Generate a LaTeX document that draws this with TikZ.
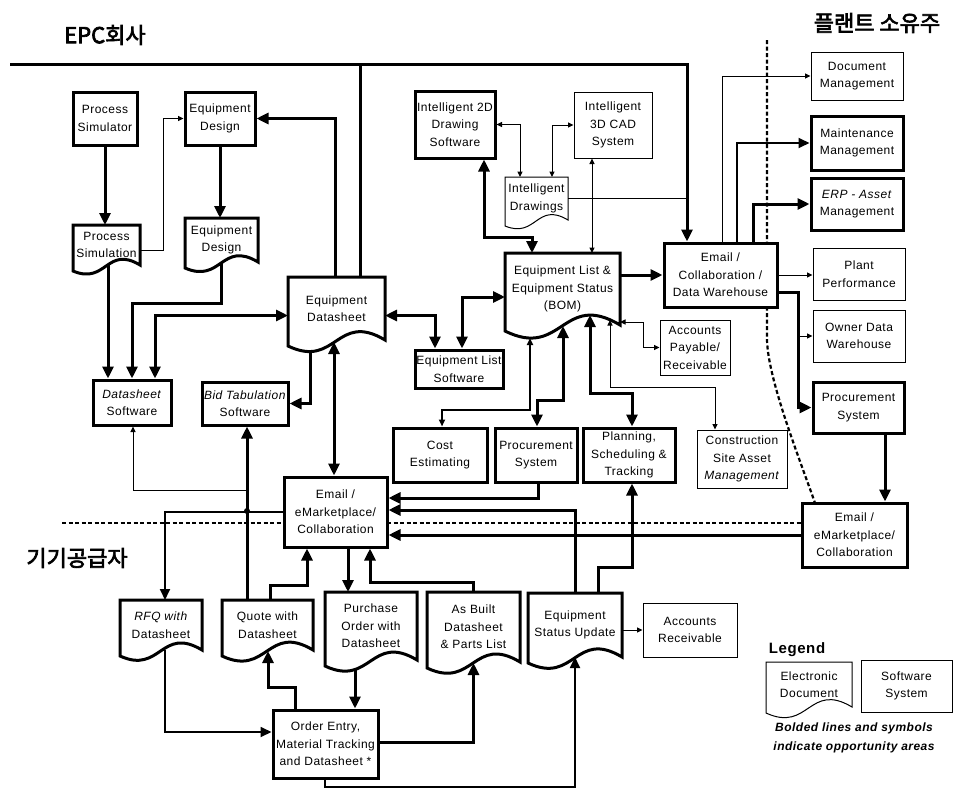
\documentclass[tikz,border=0pt]{standalone}
\usepackage{fontspec}
\setmainfont{Liberation Sans}[LetterSpace=4]
\newfontfamily\kfont{Noto Sans CJK KR}[FakeBold=3]
\usetikzlibrary{arrows.meta,calc}

% document symbol with a wavy bottom, drawn round a named node
\newcommand{\docshape}[2][]{%
  \draw[#1] (#2.north west) -- (#2.north east) -- (#2.south east)
    .. controls ($(#2.south)!0.6!90:(#2.south east)$) and ($(#2.south)!0.6!-90:(#2.south east)$)
    .. ($(#2.south west)+(0,6)$) -- cycle;}

\tikzset{
  sw/.style={draw, line width=1pt, fill=white, align=center, inner sep=1pt,
    font=\fontsize{12}{17.5}\selectfont},
  swb/.style={sw, line width=3pt},
  doc/.style={align=center, inner sep=1pt, outer sep=0pt,
    font=\fontsize{12}{17.5}\selectfont},
  boldline/.style={line width=3pt},
  medline/.style={line width=1.8pt},
  thinline/.style={line width=1pt},
  boldarrow/.style={boldline, -{Triangle[length=12pt,width=11pt]}},
  boldboth/.style={boldline, {Triangle[length=12pt,width=11pt]}-{Triangle[length=12pt,width=11pt]}},
  medarrow/.style={medline, -{Triangle[length=11pt,width=10pt]}},
  medboth/.style={medline, {Triangle[length=7pt,width=6pt]}-{Triangle[length=7pt,width=6pt]}},
  thinarrow/.style={thinline, -{Triangle[length=5.5pt,width=5pt]}},
  thinboth/.style={thinline, {Triangle[length=5.5pt,width=5pt]}-{Triangle[length=5.5pt,width=5pt]}},
  sepline/.style={line width=2.2pt, dash pattern=on 4pt off 2.5pt},
  lane/.style={font=\kfont\fontsize{22}{25}\selectfont},
}

\begin{document}
\begin{tikzpicture}[x=1pt, y=-1pt]
  \useasboundingbox (0,0) rectangle (953,790);

  % --- lane separators ---
  \draw[sepline] (62,523) -- (802,523);
  \draw[sepline] (767,40) -- (767,340) .. controls (768,380) and (800,460) .. (815,503);

  % --- lane titles ---
  \node[lane] (epc) at (105,35) {EPC회사};
  \node[lane] (ownerlane) at (877,23) {플랜트 소유주};
  \node[lane] (vendorlane) at (77,558) {기기공급자};

  % === EPC side ===
  \node[swb, minimum width=64pt, minimum height=53pt] (psim) at (105,118.5) {Process\\Simulator};
  \node[swb, minimum width=70pt, minimum height=53pt] (eqdes) at (220,118.5) {Equipment\\Design};
  \node[doc, minimum width=67pt, minimum height=40pt] (psimd) at (106.5,245) {Process\\Simulation};
  \node[doc, minimum width=73pt, minimum height=44pt] (eddoc) at (221.5,240) {Equipment\\Design};
  \node[doc, minimum width=97pt, minimum height=63pt] (eds) at (336.5,308.5) {Equipment\\Datasheet};
  \node[swb, minimum width=78pt, minimum height=45pt] (dssw) at (132,402.5) {\textit{Datasheet}\\Software};
  \node[swb, minimum width=86pt, minimum height=43pt] (bidsw) at (245,403.5) {\textit{Bid Tabulation}\\Software};
  \node[swb, minimum width=80pt, minimum height=67pt] (int2d) at (455,124.5) {Intelligent 2D\\Drawing\\Software};
  \node[sw, minimum width=78pt, minimum height=66pt] (int3d) at (613,125) {Intelligent\\3D CAD\\System};
  \node[doc, minimum width=63pt, minimum height=43pt] (idr) at (536.5,198.5) {Intelligent\\Drawings};
  \node[doc, minimum width=115pt, minimum height=72pt] (bom) at (562.5,289) {Equipment List \&\\Equipment Status\\(BOM)};
  \node[swb, minimum width=88pt, minimum height=38pt] (elsw) at (459,369) {Equipment List\\Software};
  \node[swb, minimum width=94pt, minimum height=54pt] (cost) at (440,455) {Cost\\Estimating};
  \node[swb, minimum width=82pt, minimum height=54pt] (procc) at (536,455) {Procurement\\System};
  \node[swb, minimum width=92pt, minimum height=54pt] (plan) at (629,455) {Planning,\\Scheduling \&\\Tracking};
  \node[sw, minimum width=90pt, minimum height=58pt] (cons) at (742,459) {Construction\\Site Asset\\\textit{Management}};
  \node[sw, minimum width=70pt, minimum height=55pt] (acctp) at (695,347.5) {Accounts\\Payable/\\Receivable};
  \node[swb, minimum width=113pt, minimum height=64pt] (ecdw) at (720.5,275) {Email /\\Collaboration /\\Data Warehouse};
  \node[swb, minimum width=103pt, minimum height=70pt] (emc) at (335.5,512) {Email /\\eMarketplace/\\Collaboration};

  % === owner side ===
  \node[sw, minimum width=92pt, minimum height=48pt] (docm) at (857,76) {Document\\Management};
  \node[swb, minimum width=92pt, minimum height=54pt] (maint) at (857,143) {Maintenance\\Management};
  \node[swb, minimum width=92pt, minimum height=52pt] (erp) at (857,204) {\textit{ERP - Asset}\\Management};
  \node[sw, minimum width=92pt, minimum height=52pt] (plantp) at (859,274) {Plant\\Performance};
  \node[sw, minimum width=92pt, minimum height=52pt] (owner) at (859,336) {Owner Data\\Warehouse};
  \node[swb, minimum width=91pt, minimum height=51pt] (procr) at (858.5,407.5) {Procurement\\System};
  \node[swb, minimum width=105pt, minimum height=64pt] (emr) at (854.5,535) {Email /\\eMarketplace/\\Collaboration};

  % === vendor side ===
  \node[doc, minimum width=82pt, minimum height=50pt] (rfq) at (161,625) {\textit{RFQ with}\\Datasheet};
  \node[doc, minimum width=91pt, minimum height=50pt] (quote) at (267.5,625) {Quote with\\Datasheet};
  \node[doc, minimum width=92pt, minimum height=68pt] (po) at (371,626) {Purchase\\Order with\\Datasheet};
  \node[doc, minimum width=93pt, minimum height=70pt] (asb) at (473.5,627) {As Built\\Datasheet\\\& Parts List};
  \node[doc, minimum width=94pt, minimum height=64pt] (esu) at (575,625) {Equipment\\Status Update};
  \node[sw, minimum width=94pt, minimum height=54pt] (acctr) at (690,630) {Accounts\\Receivable};
  \node[swb, minimum width=105pt, minimum height=68pt] (order) at (325.5,744) {Order Entry,\\Material Tracking\\and Datasheet *};

  % --- legend ---
  \node[font=\bfseries\fontsize{15}{18}\selectfont] (leg) at (797,650) {Legend};
  \node[doc, minimum width=86pt, minimum height=45pt] (legdoc) at (809,684.5) {Electronic\\Document};
  \node[sw, minimum width=91pt, minimum height=52pt] (legsw) at (906.5,686) {Software\\System};
  \node[font=\bfseries\itshape\fontsize{12}{19}\selectfont, align=center] (legnote) at (854,737.5)
    {Bolded lines and symbols\\indicate opportunity areas};

  % document outlines
  \foreach \d in {psimd,eddoc,eds,bom,rfq,quote,po,asb,esu} {\docshape[boldline]{\d}}
  \foreach \d in {idr,legdoc} {\docshape[thinline]{\d}}

  % --- connectors: design ---
  \draw[boldarrow] (psim.south) -- (psim.south |- psimd.north);
  \draw[boldarrow] (eqdes.south) -- (eqdes.south |- eddoc.north);
  \draw[thinarrow] ($(psimd.east)+(0,5)$) -- ++(23,0) |- (eqdes.west);
  \draw[boldarrow] (psimd.south -| 108,0) -- (dssw.north -| 108,0);
  \draw[boldarrow] (eddoc.south) -- ++(0,41) -| (dssw.north);
  \draw[boldboth] ($(eds.west)+(0,7)$) -| (dssw.north -| 155,0);
  \draw[boldarrow] ($(eds.south -| 310,0)+(0,11)$) |- (bidsw.east);
  \draw[boldarrow] (eds.north -| 335,0) |- (eqdes.east);
  \draw[boldline] (eds.north -| 360,0) -- (360,64);
  \draw[boldarrow] (10,64) -| (ecdw.north -| 687,0);
  \draw[boldboth] ($(eds.south -| 334,0)+(0,2)$) -- (emc.north -| 334,0);
  \draw[boldboth] ($(eds.east)+(0,7)$) -| (elsw.north -| 435,0);
  \draw[boldboth] (elsw.north -| 462,0) |- ($(bom.west)+(0,8)$);

  % --- connectors: equipment list ---
  \draw[thinboth] (int2d.east) -| (idr.north -| 520,0);
  \draw[thinboth] (idr.north -| 552,0) |- (int3d.west);
  \draw[boldboth] (int2d.south -| 484,0) -- (484,237) -| (bom.north -| 532,0);
  \draw[thinboth] (int3d.south -| 592,0) -- (bom.north -| 592,0);
  \draw[thinline] (idr.east) -- (idr.east -| 687,0);
  \draw[boldarrow] (bom.east |- ecdw.west) -- (ecdw.west);
  \draw[thinboth] ($(bom.south east)+(0,-3)$) -- ++(23,0) |- (acctp.west);
  \draw[thinboth] ($(bom.south -| 610,0)+(0,-5)$) -- (610,387) -| (cons.north -| 715,0);
  \draw[medboth] ($(bom.south -| 530,0)+(0,13)$) -- (530,410) -| (cost.north -| 442,0);
  \draw[boldboth] ($(bom.south -| 563,0)+(0,1)$) -- (563,400) -| (procc.north -| 537,0);
  \draw[boldboth] ($(bom.south -| 590,0)+(0,-10)$) -- (590,393) -| (plan.north -| 632,0);

  % --- connectors: owner ---
  \draw[thinarrow] (ecdw.north -| 722,0) |- (docm.west);
  \draw[medarrow] (ecdw.north -| 737,0) |- (maint.west);
  \draw[boldarrow] (ecdw.north -| 753,0) |- (erp.west);
  \draw[thinarrow] (ecdw.east) -- (ecdw.east -| plantp.west);
  \draw[boldarrow] ($(ecdw.east)+(0,17)$) -- (798,292) |- (procr.west);
  \draw[thinarrow] (owner.west -| 798,0) -- (owner.west);
  \draw[boldarrow] (procr.south -| 885,0) -- (emr.north -| 885,0);
  \draw[boldarrow] (emr.west) -- (emr.west -| emc.east);
  \draw[boldarrow] (procc.south -| 538,0) |- ($(emc.east)+(0,-14)$);
  \draw[boldarrow] (esu.north -| 575,0) |- ($(emc.east)+(0,-2)$);
  \draw[boldarrow] (esu.north -| 598,0) -- (598,567) -| (plan.south -| 632,0);
  \draw[thinarrow] (esu.east |- acctr.west) -- (acctr.west);

  % --- connectors: vendor ---
  \draw[boldarrow] (quote.north -| 247,0) -- (bidsw.south -| 247,0);
  \draw[thinarrow] (247,490) -| (dssw.south -| 133,0);
  \draw[medarrow] (emc.west) -| (rfq.north -| 165,0);
  \fill (247,511) circle (3pt);
  \draw[boldarrow] (quote.north -| 270,0) -- (270,585) -| (emc.south -| 307,0);
  \draw[boldarrow] (emc.south -| 348,0) -- (po.north -| 348,0);
  \draw[boldarrow] (asb.north -| 473,0) -- (473,582) -| (emc.south -| 370,0);
  \draw[boldarrow] ($(po.south -| 355,0)+(0,9)$) -- (order.north -| 355,0);
  \draw[boldarrow] (order.north -| 295,0) -- (295,687) -| ($(quote.south -| 268,0)+(0,1)$);
  \draw[medarrow] (rfq.south -| 165,0) |- ($(order.west)+(0,-12)$);
  \draw[boldarrow] ($(order.east)+(0,-2)$) -| ($(asb.south)+(0,1)$);
  \draw[medarrow] (order.south -| 325,0) -- (325,787) -| (esu.south);
\end{tikzpicture}
\end{document}
